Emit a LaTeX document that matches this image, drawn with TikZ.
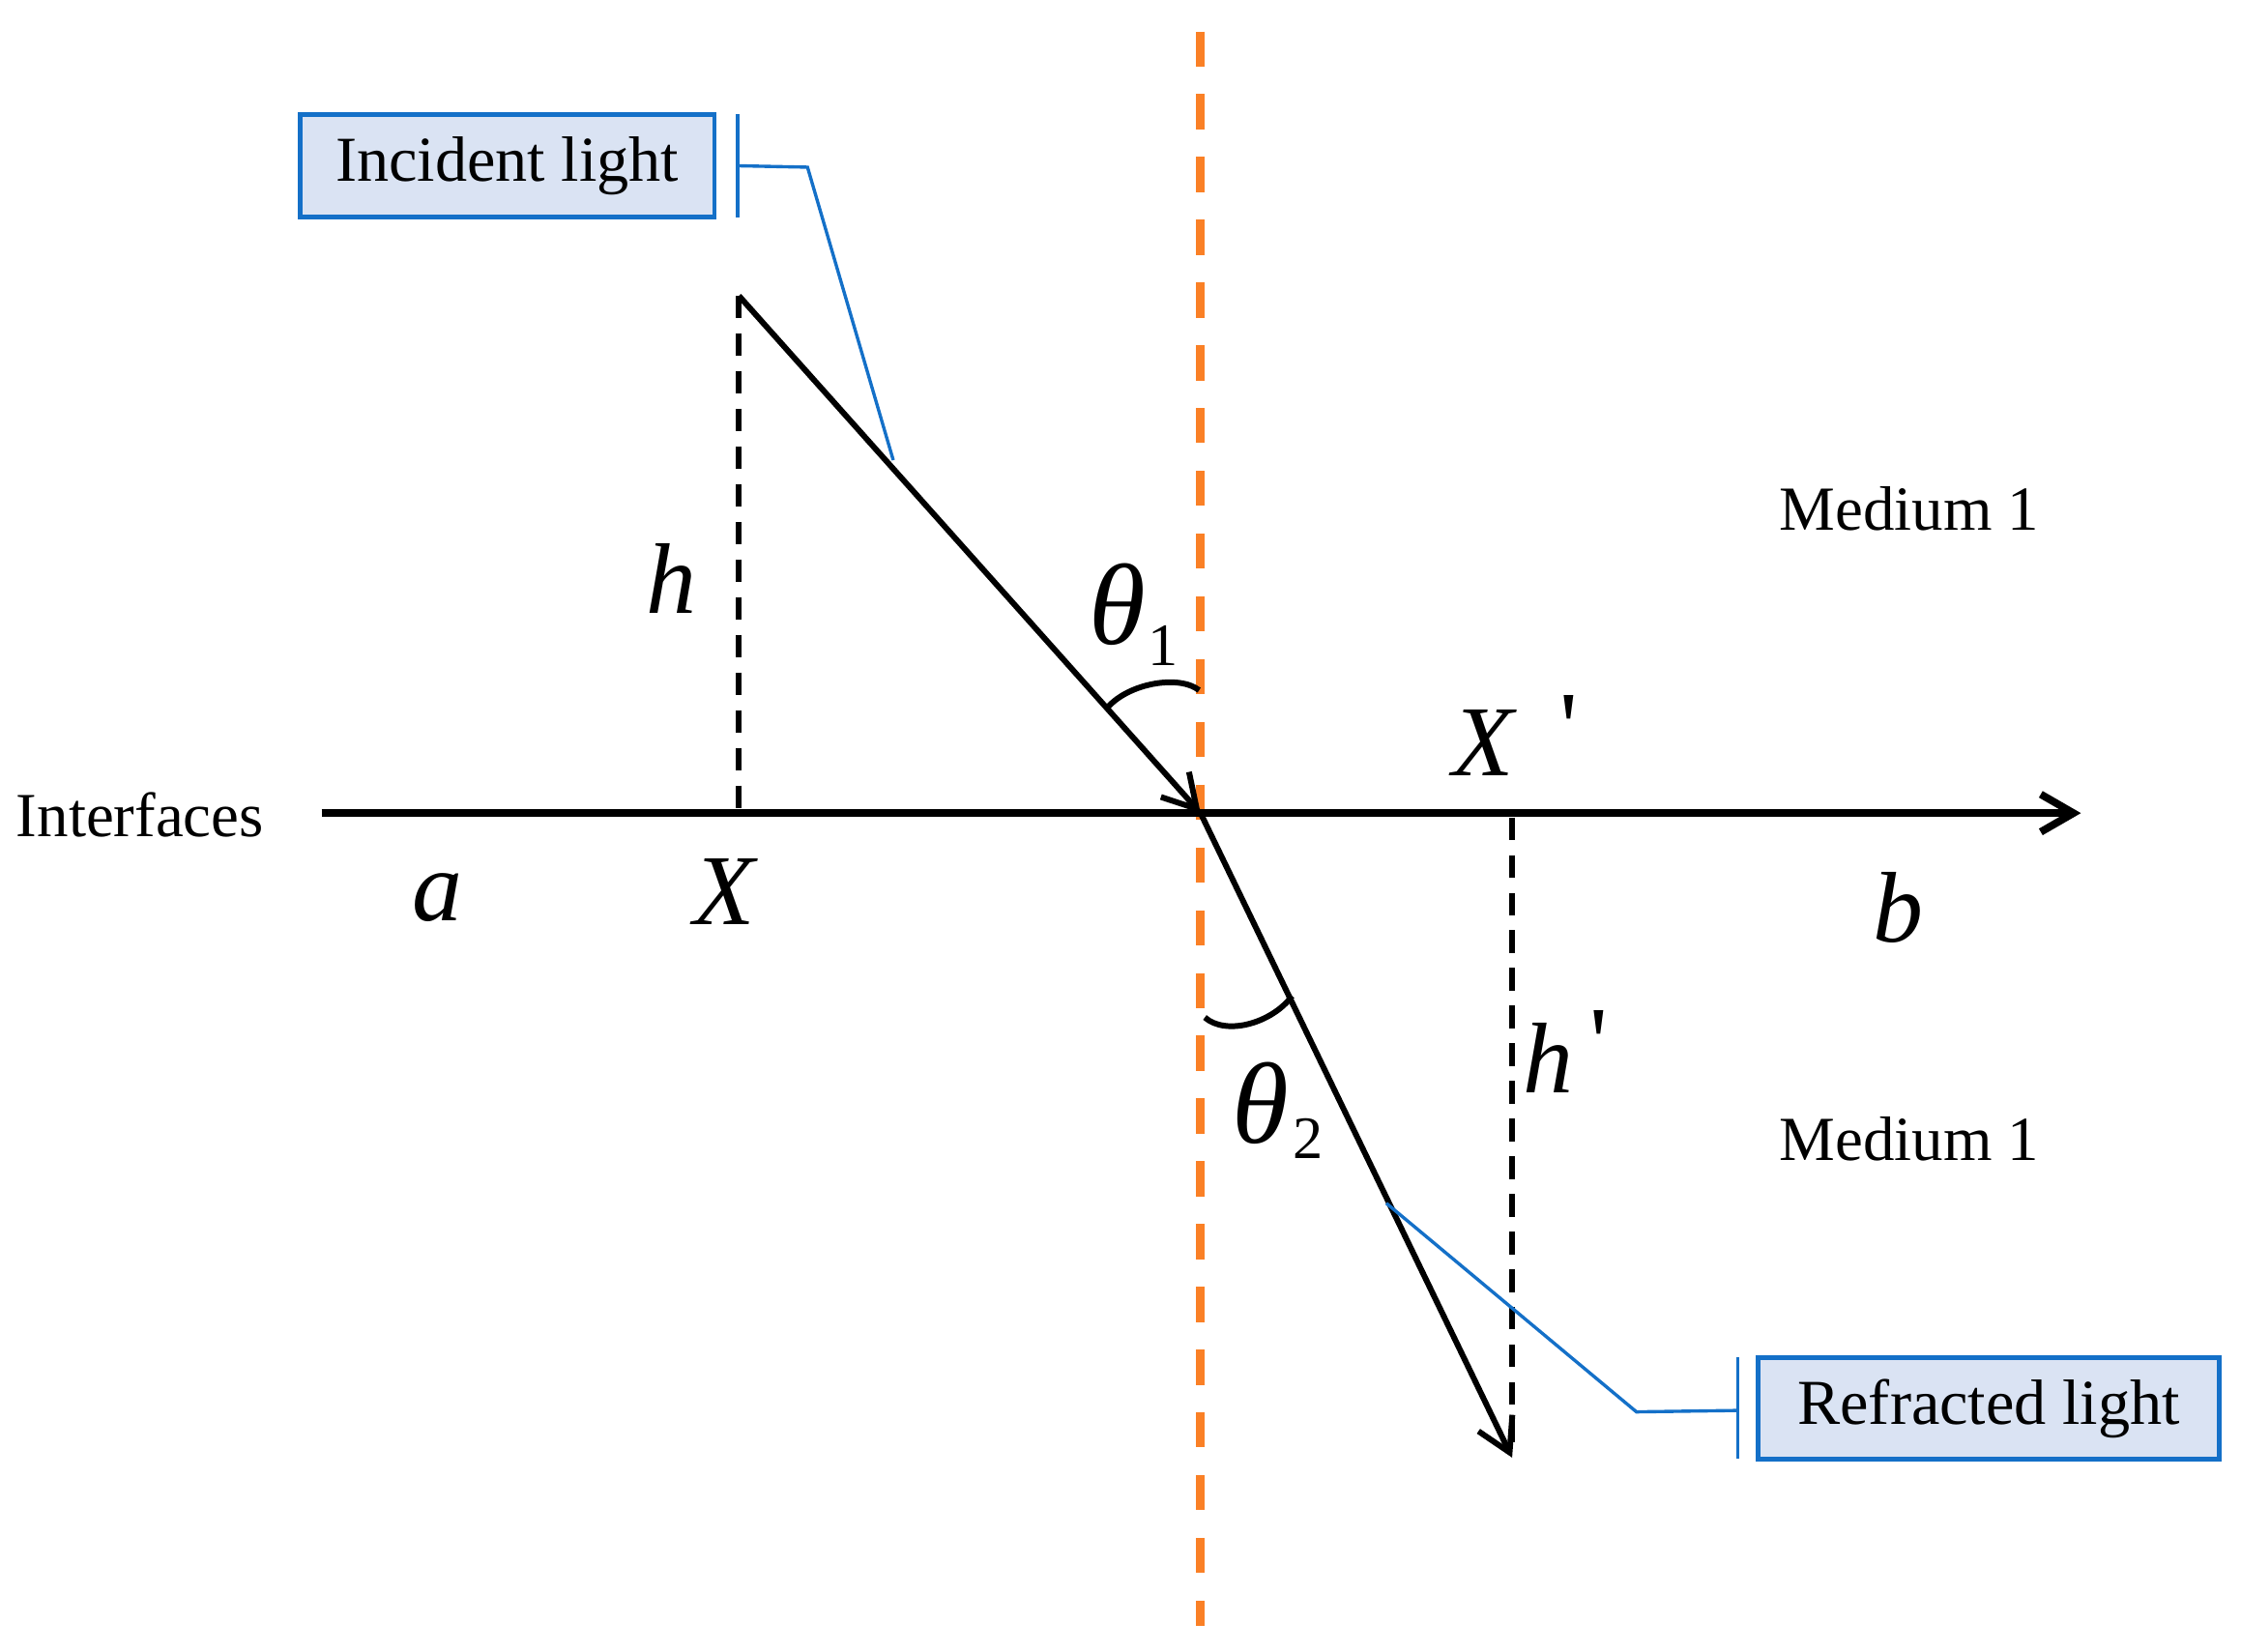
\documentclass[tikz,border=0pt]{standalone}
\usepackage{fontspec}
\setmainfont{Liberation Serif}
\newfontfamily\rawserif{Liberation Serif}
\usetikzlibrary{arrows.meta}
\definecolor{orng}{RGB}{250,128,38}
\definecolor{cblue}{RGB}{20,112,200}
\definecolor{cfill}{RGB}{218,227,243}
\begin{document}
\begin{tikzpicture}[x=0.02cm,y=-0.02cm,
  barb/.style={-{Straight Barb[length=13pt,width=15pt,line width=2.3pt]}},
  ray/.style={line width=2.3pt, barb},
  axisline/.style={line width=3.1pt, -{Straight Barb[length=13pt,width=15pt,line width=3pt]}},
  normalline/.style={orng, line width=3.5pt, dash pattern=on 14pt off 11pt},
  guide/.style={line width=2.2pt, dash pattern=on 9pt off 6pt},
  anglearc/.style={line width=2.3pt},
  callbox/.style={draw=cblue, fill=cfill, line width=1.8pt, inner sep=0pt, font=\fontsize{25.5}{30}\selectfont},
  callline/.style={cblue, line width=1.3pt},
  plain/.style={inner sep=0pt, font=\fontsize{25}{30}\selectfont},
  mathlbl/.style={inner sep=0pt, font=\fontsize{40}{46}\selectfont\itshape},
  thetalbl/.style={inner sep=0pt, font=\fontsize{46}{50}\selectfont\itshape},
  primelbl/.style={inner sep=0pt, font=\fontsize{40}{46}\selectfont\rawserif},
  subl/.style={inner sep=0pt, font=\fontsize{24}{28}\selectfont},
]
\useasboundingbox (0,0) rectangle (1568,1156);
% coordinates
\coordinate (O) at (840,569);
\coordinate (S) at (517,207);
\coordinate (Xf) at (517,569);
\coordinate (E) at (1058,1020);
\coordinate (Xp) at (1058,572);
\coordinate (Nt) at (840,22);
\coordinate (Nb) at (840,1138);
\coordinate (Al) at (225,569);
\coordinate (Ar) at (1456,569);
% normal
\draw[normalline] (Nt) -- (Nb);
% guides
\draw[guide] (S) -- (Xf);
\draw[guide] (Xp) -- (E);
% axis
\draw[axisline] (Al) -- (Ar);
% rays
\draw[ray] (S) -- (O);
\draw[ray] (O) -- (E);
% angle arcs
\coordinate (a1s) at (775,495);
\coordinate (a1e) at (839,483);
\draw[anglearc] (a1s) .. controls (790,478) and (825,472) .. (a1e);
\coordinate (a2s) at (843,712);
\coordinate (a2e) at (904,697);
\draw[anglearc] (a2s) .. controls (858,725) and (890,716) .. (a2e);
% labels
\node[plain] (interf) at (98,570) {Interfaces};
\node[mathlbl] (la) at (306,628) {a};
\node[mathlbl] (lX) at (507,624) {X};
\node[mathlbl] (lb) at (1328,635) {b};
\node[mathlbl] (lh) at (470,405) {h};
\node[thetalbl] (th1) at (782,423) {θ};
\node[subl] (s1) at (814,452) {1};
\node[mathlbl] (lXp) at (1038,520) {X};
\node[primelbl] (pXp) at (1098,510) {'};
\node[mathlbl] (lhp) at (1083,740) {h};
\node[primelbl] (php) at (1119,730) {'};
\node[thetalbl] (th2) at (882,772) {θ};
\node[subl] (s2) at (915,797) {2};
\node[plain] (m1) at (1336,356) {Medium 1};
\node[plain] (m2) at (1336,797) {Medium 1};
% callouts
\node[callbox, minimum width=5.8cm, minimum height=1.44cm] (inc) at (355,116) {Incident light};
\coordinate (b1t) at (516,80);
\coordinate (b1b) at (516,152);
\coordinate (b1m) at (516,116);
\coordinate (b1k) at (565,117);
\coordinate (b1e) at (625,322);
\draw[callline] (b1t) -- (b1b);
\draw[callline] (b1m) -- (b1k) -- (b1e);
\node[callbox, minimum width=6.46cm, minimum height=1.42cm] (ref) at (1391.5,985.5) {Refracted light};
\coordinate (b2t) at (1216,950);
\coordinate (b2b) at (1216,1021);
\coordinate (b2m) at (1216,987);
\coordinate (b2k) at (1145,988);
\coordinate (b2e) at (970,842);
\draw[callline] (b2t) -- (b2b);
\draw[callline] (b2m) -- (b2k) -- (b2e);
\end{tikzpicture}
\end{document}
